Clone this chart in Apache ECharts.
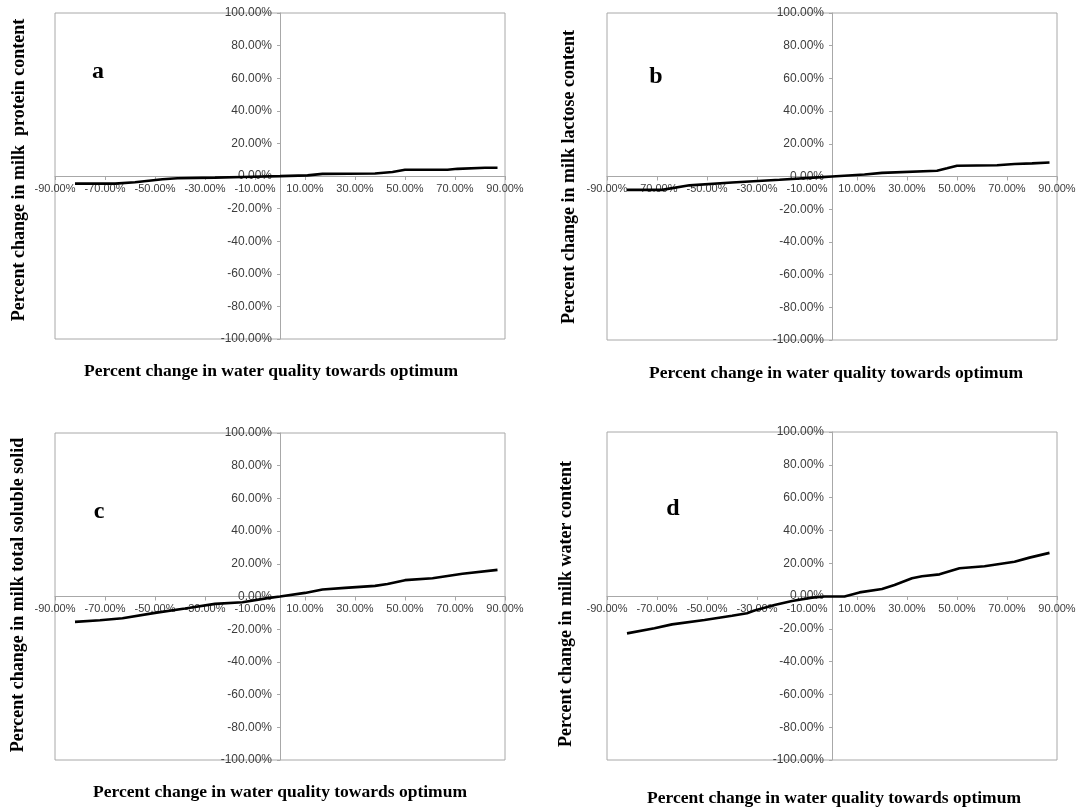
<!DOCTYPE html>
<html>
<head>
<meta charset="utf-8">
<script src="https://cdn.jsdelivr.net/npm/echarts@6/dist/echarts.min.js"></script>
<style>
  html, body { margin: 0; padding: 0; background: #ffffff; }
  #chart { width: 1083px; height: 810px; }
</style>
</head>
<body>
<div id="chart"></div>
<script>
// Percent change in water quality towards optimum (x) and the response (y), in %
const xProtein = [-82, -66, -58, -47, -41, -26, -15, 0, 11, 17, 38, 45, 50, 67, 71, 82, 87];
const yProtein = [-4.7, -4.7, -3.8, -2.0, -1.4, -1.0, -0.6, -0.1, 0.4, 1.3, 1.5, 2.5, 3.8, 3.8, 4.4, 5.1, 5.1];

const xLactose = [-82, -68, -57, -40, -21, -4, 0, 13, 20, 42, 46, 50, 66, 73, 80, 87];
const yLactose = [-8.2, -8.2, -5.4, -3.7, -2.0, -0.4, 0, 1.2, 2.2, 3.5, 5.0, 6.6, 6.9, 7.6, 8.0, 8.6];

const xSolids = [-82, -72, -63, -50, -38, -26, -15, -5, 0, 10, 17, 26, 38, 43, 50, 61, 73, 87];
const ySolids = [-15.5, -14.5, -13.3, -10.0, -7.3, -4.5, -3.5, -1.0, 0, 2.2, 4.3, 5.3, 6.5, 7.6, 10.0, 11.2, 13.9, 16.3];

const xWater = [-82, -71, -64, -51, -40, -34, -31, -23, -16, -8, -3, 5, 11, 20, 25, 32, 36, 43, 51, 61, 73, 79, 87];
const yWater = [-22.8, -19.7, -17.3, -14.6, -12.0, -10.5, -8.9, -5.5, -3.0, -1.0, -0.3, -0.3, 2.2, 4.3, 6.7, 10.8, 12.0, 13.2, 16.9, 18.1, 20.9, 23.4, 26.3];

// Axis ranges and tick steps (percent)
const xMin = -90, xMax = 90, xStep = 20;
const yMin = -100, yMax = 100, yStep = 20;

const panelLetters = ['a', 'b', 'c', 'd'];
const yTitles = [
  'Percent change in milk  protein content',
  'Percent change in milk lactose content',
  'Percent change in milk total soluble solid',
  'Percent change in milk water content'
];
const xTitle = 'Percent change in water quality towards optimum';

const seriesX = [xProtein, xLactose, xSolids, xWater];
const seriesY = [yProtein, yLactose, ySolids, yWater];

// Layout of the four plot boxes and their text
const grids = [
  { left: 55,  top: 13,  width: 450, height: 326 },
  { left: 607, top: 13,  width: 450, height: 327 },
  { left: 55,  top: 433, width: 450, height: 327 },
  { left: 607, top: 432, width: 450, height: 328 }
];
const letterPos = [[98, 60], [656, 65], [99, 500], [673, 497]];
const yTitlePos = [[19, 170], [569, 177], [18, 595], [566, 604]];
const xTitlePos = [[271, 371], [836, 373], [280, 792], [834, 798]];

const axisGray = '#a8a8a8';
const labelGray = '#3c3c3c';
const fmt = v => v.toFixed(2) + '%';

// The axes cross at (0, 0): place each axis inside its box at the zero position
const xAxisShift = g => -g.height * (0 - yMin) / (yMax - yMin);
const yAxisShift = g => -g.width * (0 - xMin) / (xMax - xMin);

const option = {
  backgroundColor: '#ffffff',
  animation: false,
  grid: grids.map(g => Object.assign({
    show: true,
    borderColor: axisGray,
    borderWidth: 1,
    backgroundColor: 'transparent',
    containLabel: false,
    outerBoundsMode: 'none'
  }, g)),
  xAxis: grids.map((g, i) => ({
    type: 'value',
    gridIndex: i,
    position: 'bottom',
    offset: xAxisShift(g),
    min: xMin, max: xMax, interval: xStep,
    axisLine: { show: true, onZero: false, lineStyle: { color: axisGray, width: 1 } },
    axisTick: { show: true, length: 4, lineStyle: { color: axisGray } },
    axisLabel: {
      formatter: fmt, fontSize: 11, color: labelGray, margin: 7,
      fontFamily: '"Liberation Sans", Arial, sans-serif',
      showMinLabel: true, showMaxLabel: true, hideOverlap: false
    },
    splitLine: { show: false }
  })),
  yAxis: grids.map((g, i) => ({
    type: 'value',
    gridIndex: i,
    position: 'left',
    offset: yAxisShift(g),
    min: yMin, max: yMax, interval: yStep,
    axisLine: { show: true, onZero: false, lineStyle: { color: axisGray, width: 1 } },
    axisTick: { show: true, length: 3, lineStyle: { color: axisGray } },
    axisLabel: {
      formatter: fmt, fontSize: 12, color: labelGray, margin: 8,
      fontFamily: '"Liberation Sans", Arial, sans-serif',
      showMinLabel: true, showMaxLabel: true, hideOverlap: false
    },
    splitLine: { show: false }
  })),
  series: seriesX.map((xs, i) => ({
    type: 'line',
    xAxisIndex: i,
    yAxisIndex: i,
    data: xs.map((x, k) => [x, seriesY[i][k]]),
    showSymbol: false,
    smooth: false,
    lineStyle: { color: '#000000', width: 2.6 },
    z: 5
  })),
  graphic: [].concat(
    panelLetters.map((t, i) => ({
      type: 'text',
      x: letterPos[i][0], y: letterPos[i][1],
      style: {
        text: t, fill: '#000',
        font: 'bold 24px "Liberation Serif", "Times New Roman", serif',
        textAlign: 'center', textVerticalAlign: 'alphabetic'
      }
    })),
    yTitles.map((t, i) => ({
      type: 'text',
      x: yTitlePos[i][0], y: yTitlePos[i][1],
      rotation: Math.PI / 2,
      style: {
        text: t, fill: '#000',
        font: 'bold 18px "Liberation Serif", "Times New Roman", serif',
        textAlign: 'center', textVerticalAlign: 'middle'
      }
    })),
    xTitlePos.map((p, i) => ({
      type: 'text',
      x: p[0], y: p[1],
      style: {
        text: xTitle, fill: '#000',
        font: 'bold 17.5px "Liberation Serif", "Times New Roman", serif',
        textAlign: 'center', textVerticalAlign: 'middle'
      }
    }))
  )
};

const chart = echarts.init(document.getElementById('chart'), null, { renderer: 'canvas' });
chart.setOption(option);
</script>
</body>
</html>
